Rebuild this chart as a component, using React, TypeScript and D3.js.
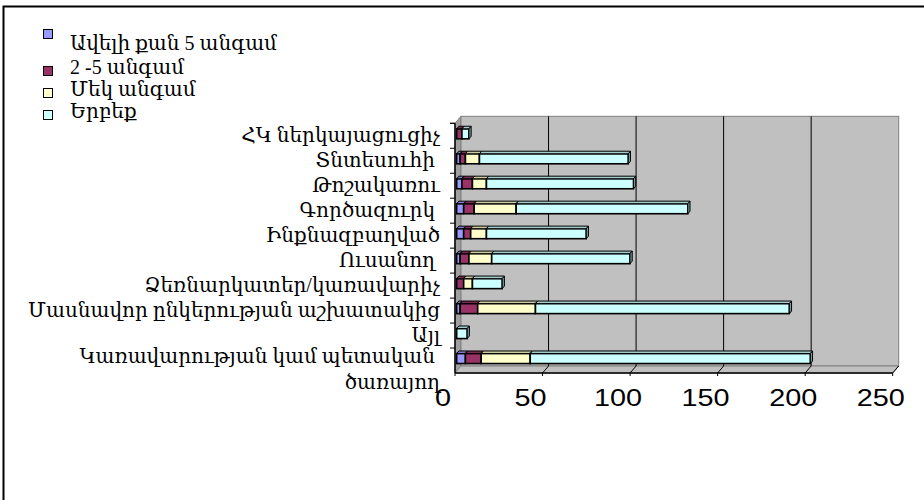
import { useEffect, useRef } from 'react';
import * as d3 from 'd3';

// categories listed bottom to top, as in the source sheet
const categories = [
  'Կառավարության կամ պետական |ծառայող',
  'Այլ',
  'Մասնավոր ընկերության աշխատակից',
  'Ձեռնարկատեր/կառավարիչ',
  'Ուսանող ',
  'Ինքնազբաղված',
  'Գործազուրկ ',
  'Թոշակառու',
  'Տնտեսուհի ',
  'ՀԿ ներկայացուցիչ',
];

const seriesNames = ['Ավելի քան 5 անգամ', '2 -5 անգամ', 'Մեկ անգամ', 'Երբեք'];

const moreThanFive = [5, 0, 2, 0, 2, 4, 4, 3, 2, 0];
const twoToFive = [9, 0, 10, 4, 5, 4, 6, 6, 3, 3];
const once = [28, 0, 33, 5, 13, 9, 24, 8, 8, 0];
const never = [160, 6, 145, 17, 79, 57, 98, 84, 85, 4];

const xTicks = [0, 50, 100, 150, 200, 250];

const palette = [
  { front: '#9999FF', top: '#7A7ACC', side: '#5C5C99' },
  { front: '#993366', top: '#7A2952', side: '#5C1F3D' },
  { front: '#FFFFCC', top: '#CCCCA3', side: '#99997A' },
  { front: '#CCFFFF', top: '#A3CCCC', side: '#7A9999' },
];

const serif = "'Liberation Serif', 'DejaVu Serif', serif";
const sans = "'Liberation Sans', Arial, sans-serif";

export default function App() {
  const svgRef = useRef<SVGSVGElement>(null);

  useEffect(() => {
    if (!svgRef.current) return;
    const svg = d3.select(svgRef.current);
    svg.selectAll('*').remove();

    // 3d box: front plane and depth offset
    const left = 455, right = 892.7, top = 123.3, bottom = 373;
    const depth = { dx: 6, dy: -7 };

    const x = d3.scaleLinear().domain([0, 250]).range([left, right]);
    const y = d3.scaleBand().domain(categories).range([bottom, top]).paddingInner(0.6).paddingOuter(0.3);
    const band = d3.scaleBand().domain(categories).range([bottom, top]);

    // outer frame
    svg.append('rect')
      .attr('x', 3.5).attr('y', 6.5).attr('width', 1000).attr('height', 1000)
      .attr('fill', 'white').attr('stroke', '#000').attr('stroke-width', 2);

    const pt = (px: number, py: number, k: number) => `${px + depth.dx * k},${py + depth.dy * k}`;

    // side wall
    svg.append('polygon')
      .attr('points', [pt(left, top, 0), pt(left, top, 1), pt(left, bottom, 1), pt(left, bottom, 0)].join(' '))
      .attr('fill', '#A0A0A0').attr('stroke', '#808080').attr('stroke-width', 1);

    // back wall
    svg.append('rect')
      .attr('x', left + depth.dx).attr('y', top + depth.dy)
      .attr('width', right - left).attr('height', bottom - top)
      .attr('fill', '#C0C0C0').attr('stroke', '#808080').attr('stroke-width', 1);

    // floor
    svg.append('polygon')
      .attr('points', [pt(left, bottom, 0), pt(right, bottom, 0), pt(right, bottom, 1), pt(left, bottom, 1)].join(' '))
      .attr('fill', '#C0C0C0').attr('stroke', '#808080').attr('stroke-width', 1);

    // gridlines on the back wall and the floor
    xTicks.slice(1, -1).forEach(t => {
      svg.append('line')
        .attr('x1', x(t) + depth.dx).attr('x2', x(t) + depth.dx)
        .attr('y1', top + depth.dy).attr('y2', bottom + depth.dy)
        .attr('stroke', '#000').attr('stroke-width', 1);
    });
    xTicks.slice(1).forEach(t => {
      svg.append('line')
        .attr('x1', x(t)).attr('y1', bottom)
        .attr('x2', x(t) + depth.dx).attr('y2', bottom + depth.dy)
        .attr('stroke', '#000').attr('stroke-width', 1);
    });

    // axes
    svg.append('line')
      .attr('x1', left).attr('x2', right).attr('y1', bottom).attr('y2', bottom)
      .attr('stroke', '#000').attr('stroke-width', 1.5);
    svg.append('line')
      .attr('x1', left).attr('x2', left).attr('y1', top).attr('y2', bottom)
      .attr('stroke', '#000').attr('stroke-width', 1.5);

    xTicks.forEach(t => {
      svg.append('line')
        .attr('x1', x(t)).attr('x2', x(t)).attr('y1', bottom).attr('y2', bottom + 3)
        .attr('stroke', '#000');
      // tick labels are stretched sideways in the original
      svg.append('text')
        .attr('transform', `translate(${x(t) - 12},406) scale(1.2,1)`)
        .attr('text-anchor', 'middle')
        .style('font-family', sans).style('font-size', '24px')
        .text(t);
    });

    const bounds = [...categories.map(c => band(c)!), top];
    bounds.forEach(b => {
      svg.append('line')
        .attr('x1', left - 5).attr('x2', left).attr('y1', b).attr('y2', b)
        .attr('stroke', '#000');
    });

    // category labels
    categories.forEach(c => {
      const cy = band(c)! + band.bandwidth() / 2;
      const lines = c.split('|');
      const text = svg.append('text')
        .attr('text-anchor', 'end')
        .style('font-family', serif).style('font-size', '20px')
        .style('white-space', 'pre');
      lines.forEach((ln, i) => {
        text.append('tspan')
          .attr('x', 440)
          .attr('y', lines.length > 1 ? cy + 2 + i * 26 : cy + 6)
          .text(ln);
      });
    });

    // stacked 3d bars
    const series = [moreThanFive, twoToFive, once, never];
    const f0 = 0.28, f1 = 0.65;
    const fx = depth.dx * f0, fy = depth.dy * f0;
    const bx = depth.dx * (f1 - f0), by = depth.dy * (f1 - f0);

    categories.forEach((c, ci) => {
      let acc = 0;
      const y0 = y(c)! + fy;
      const h = y.bandwidth();
      series.forEach((vals, si) => {
        const v = vals[ci];
        if (!v) return;
        const xa = x(acc) + fx;
        const xb = x(acc + v) + fx;
        acc += v;
        const col = palette[si];
        svg.append('rect')
          .attr('x', xa).attr('y', y0).attr('width', xb - xa).attr('height', h)
          .attr('fill', col.front).attr('stroke', '#000').attr('stroke-width', 1.6);
        svg.append('polygon')
          .attr('points', `${xa},${y0} ${xa + bx},${y0 + by} ${xb + bx},${y0 + by} ${xb},${y0}`)
          .attr('fill', col.top).attr('stroke', '#000').attr('stroke-width', 1);
        svg.append('polygon')
          .attr('points', `${xb},${y0} ${xb + bx},${y0 + by} ${xb + bx},${y0 + by + h} ${xb},${y0 + h}`)
          .attr('fill', col.side).attr('stroke', '#000').attr('stroke-width', 1);
      });
    });

    // legend
    const legendY = [29, 66, 88, 110];
    const legendText = [50, 74, 96, 118];
    seriesNames.forEach((name, i) => {
      svg.append('rect')
        .attr('x', 43.5).attr('y', legendY[i] + 0.5).attr('width', 9).attr('height', 9)
        .attr('fill', palette[i].front).attr('stroke', '#000').attr('stroke-width', 1);
      svg.append('text')
        .attr('x', 70).attr('y', legendText[i])
        .style('font-family', serif).style('font-size', '20px')
        .text(name);
    });
  }, []);

  return (
    <svg ref={svgRef} width={924} height={500}
      style={{ position: 'absolute', left: 0, top: 0, background: 'white' }} />
  );
}
